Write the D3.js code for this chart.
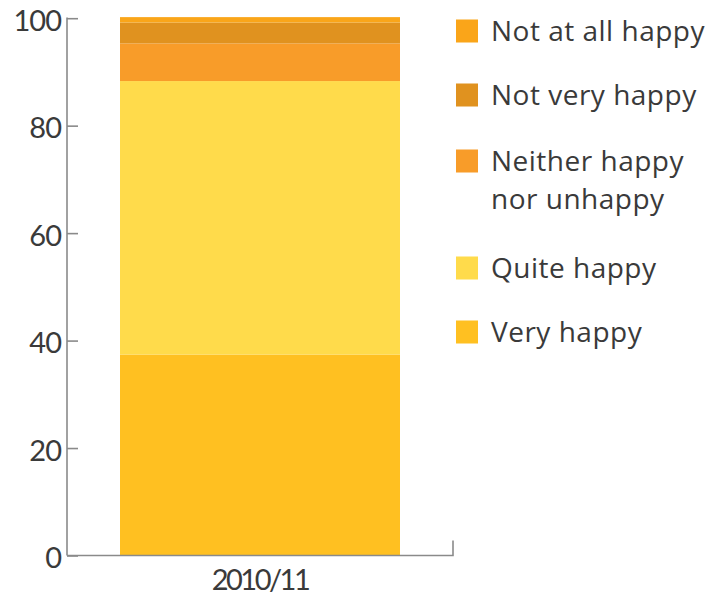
<!DOCTYPE html>
<html><head><meta charset="utf-8">
<script src="https://cdn.jsdelivr.net/npm/d3@7"></script>
<style>html,body{margin:0;padding:0;background:#fff;}svg{display:block;}</style>
</head><body>
<svg id="chart" width="712" height="598"></svg>
<script>
// Data
const categories = ["2010/11"];
const seriesNames = ["Very happy", "Quite happy", "Neither happy nor unhappy", "Not very happy", "Not at all happy"];
const veryHappy = [37.4];
const quiteHappy = [50.9];
const neither = [7.0];
const notVery = [3.9];
const notAtAll = [1.0];
const yTicks = [0, 20, 40, 60, 80, 100];
const legendOrder = ["Not at all happy", "Not very happy", "Neither happy nor unhappy", "Quite happy", "Very happy"];
const legendLines = {"Neither happy nor unhappy": ["Neither happy", "nor unhappy"]};
const colors = {"Very happy": "#FFC021", "Quite happy": "#FFDB4B", "Neither happy nor unhappy": "#F89C29", "Not very happy": "#E0921F", "Not at all happy": "#FAA519"};

const seriesValues = [veryHappy, quiteHappy, neither, notVery, notAtAll];
const rows = categories.map((c, i) => {
  const r = {category: c};
  seriesNames.forEach((s, j) => r[s] = seriesValues[j][i]);
  return r;
});

const svg = d3.select("#chart");
const numFont = "Lato, sans-serif";
const font = "'Open Sans', sans-serif";
const textColor = "#3a3a3a";
const axisColor = "#8a8a8a";

const x0 = 67, x1 = 453, yTop = 18.2, yBot = 555.5;
const y = d3.scaleLinear().domain([0, 100]).range([yBot, yTop]);
const xb = d3.scaleBand().domain(categories).range([x0 + 53, x1 - 53]);

const stack = d3.stack().keys(seriesNames)(rows);

svg.append("g").selectAll("g").data(stack).join("g")
  .attr("fill", d => colors[d.key])
  .selectAll("rect").data(d => d).join("rect")
  .attr("x", d => xb(d.data.category))
  .attr("width", xb.bandwidth())
  .attr("y", d => y(d[1]))
  .attr("height", d => y(d[0]) - y(d[1]));

// Y axis
const yAxis = d3.axisRight(y).tickValues(yTicks).tickSize(11).tickFormat("");
const gy = svg.append("g").attr("transform", `translate(${x0},0)`).call(yAxis);
gy.select(".domain").remove();
gy.selectAll(".tick line").attr("stroke", axisColor).attr("stroke-width", 1.6);
svg.append("line").attr("x1", x0).attr("x2", x0).attr("y1", y(100) - 0.8).attr("y2", yBot)
  .attr("stroke", axisColor).attr("stroke-width", 1.6);
svg.append("g").selectAll("text").data(yTicks).join("text")
  .attr("x", x0 - 6).attr("y", d => y(d)).attr("dy", "0.44em")
  .attr("text-anchor", "end").attr("font-family", numFont).attr("font-size", 29)
  .attr("letter-spacing", -1)
  .attr("fill", textColor).text(d => d);

// X axis baseline
svg.append("path")
  .attr("d", `M${x0},${yBot}H${x1}V${yBot - 15}`)
  .attr("fill", "none").attr("stroke", axisColor).attr("stroke-width", 1.6);
svg.append("g").selectAll("text").data(categories).join("text")
  .attr("x", d => xb(d) + xb.bandwidth() / 2).attr("y", 590)
  .attr("text-anchor", "middle").attr("font-family", numFont).attr("font-size", 29)
  .attr("letter-spacing", -2.5)
  .attr("fill", textColor).text(d => d);

// Legend
const legendY = {"Not at all happy": 31, "Not very happy": 95, "Neither happy nor unhappy": 161, "Quite happy": 268, "Very happy": 332};
const lg = svg.append("g");
legendOrder.forEach(name => {
  const cy = legendY[name];
  lg.append("rect").attr("x", 456).attr("y", cy - 11.5).attr("width", 22).attr("height", 23)
    .attr("fill", colors[name]);
  const lines = legendLines[name] || [name];
  lines.forEach((ln, i) => {
    lg.append("text").attr("x", 491).attr("y", cy + 10 + i * 38)
      .attr("font-family", font).attr("font-size", 28).attr("fill", textColor)
      .attr("letter-spacing", 0.5).text(ln);
  });
});
</script>
</body></html>
